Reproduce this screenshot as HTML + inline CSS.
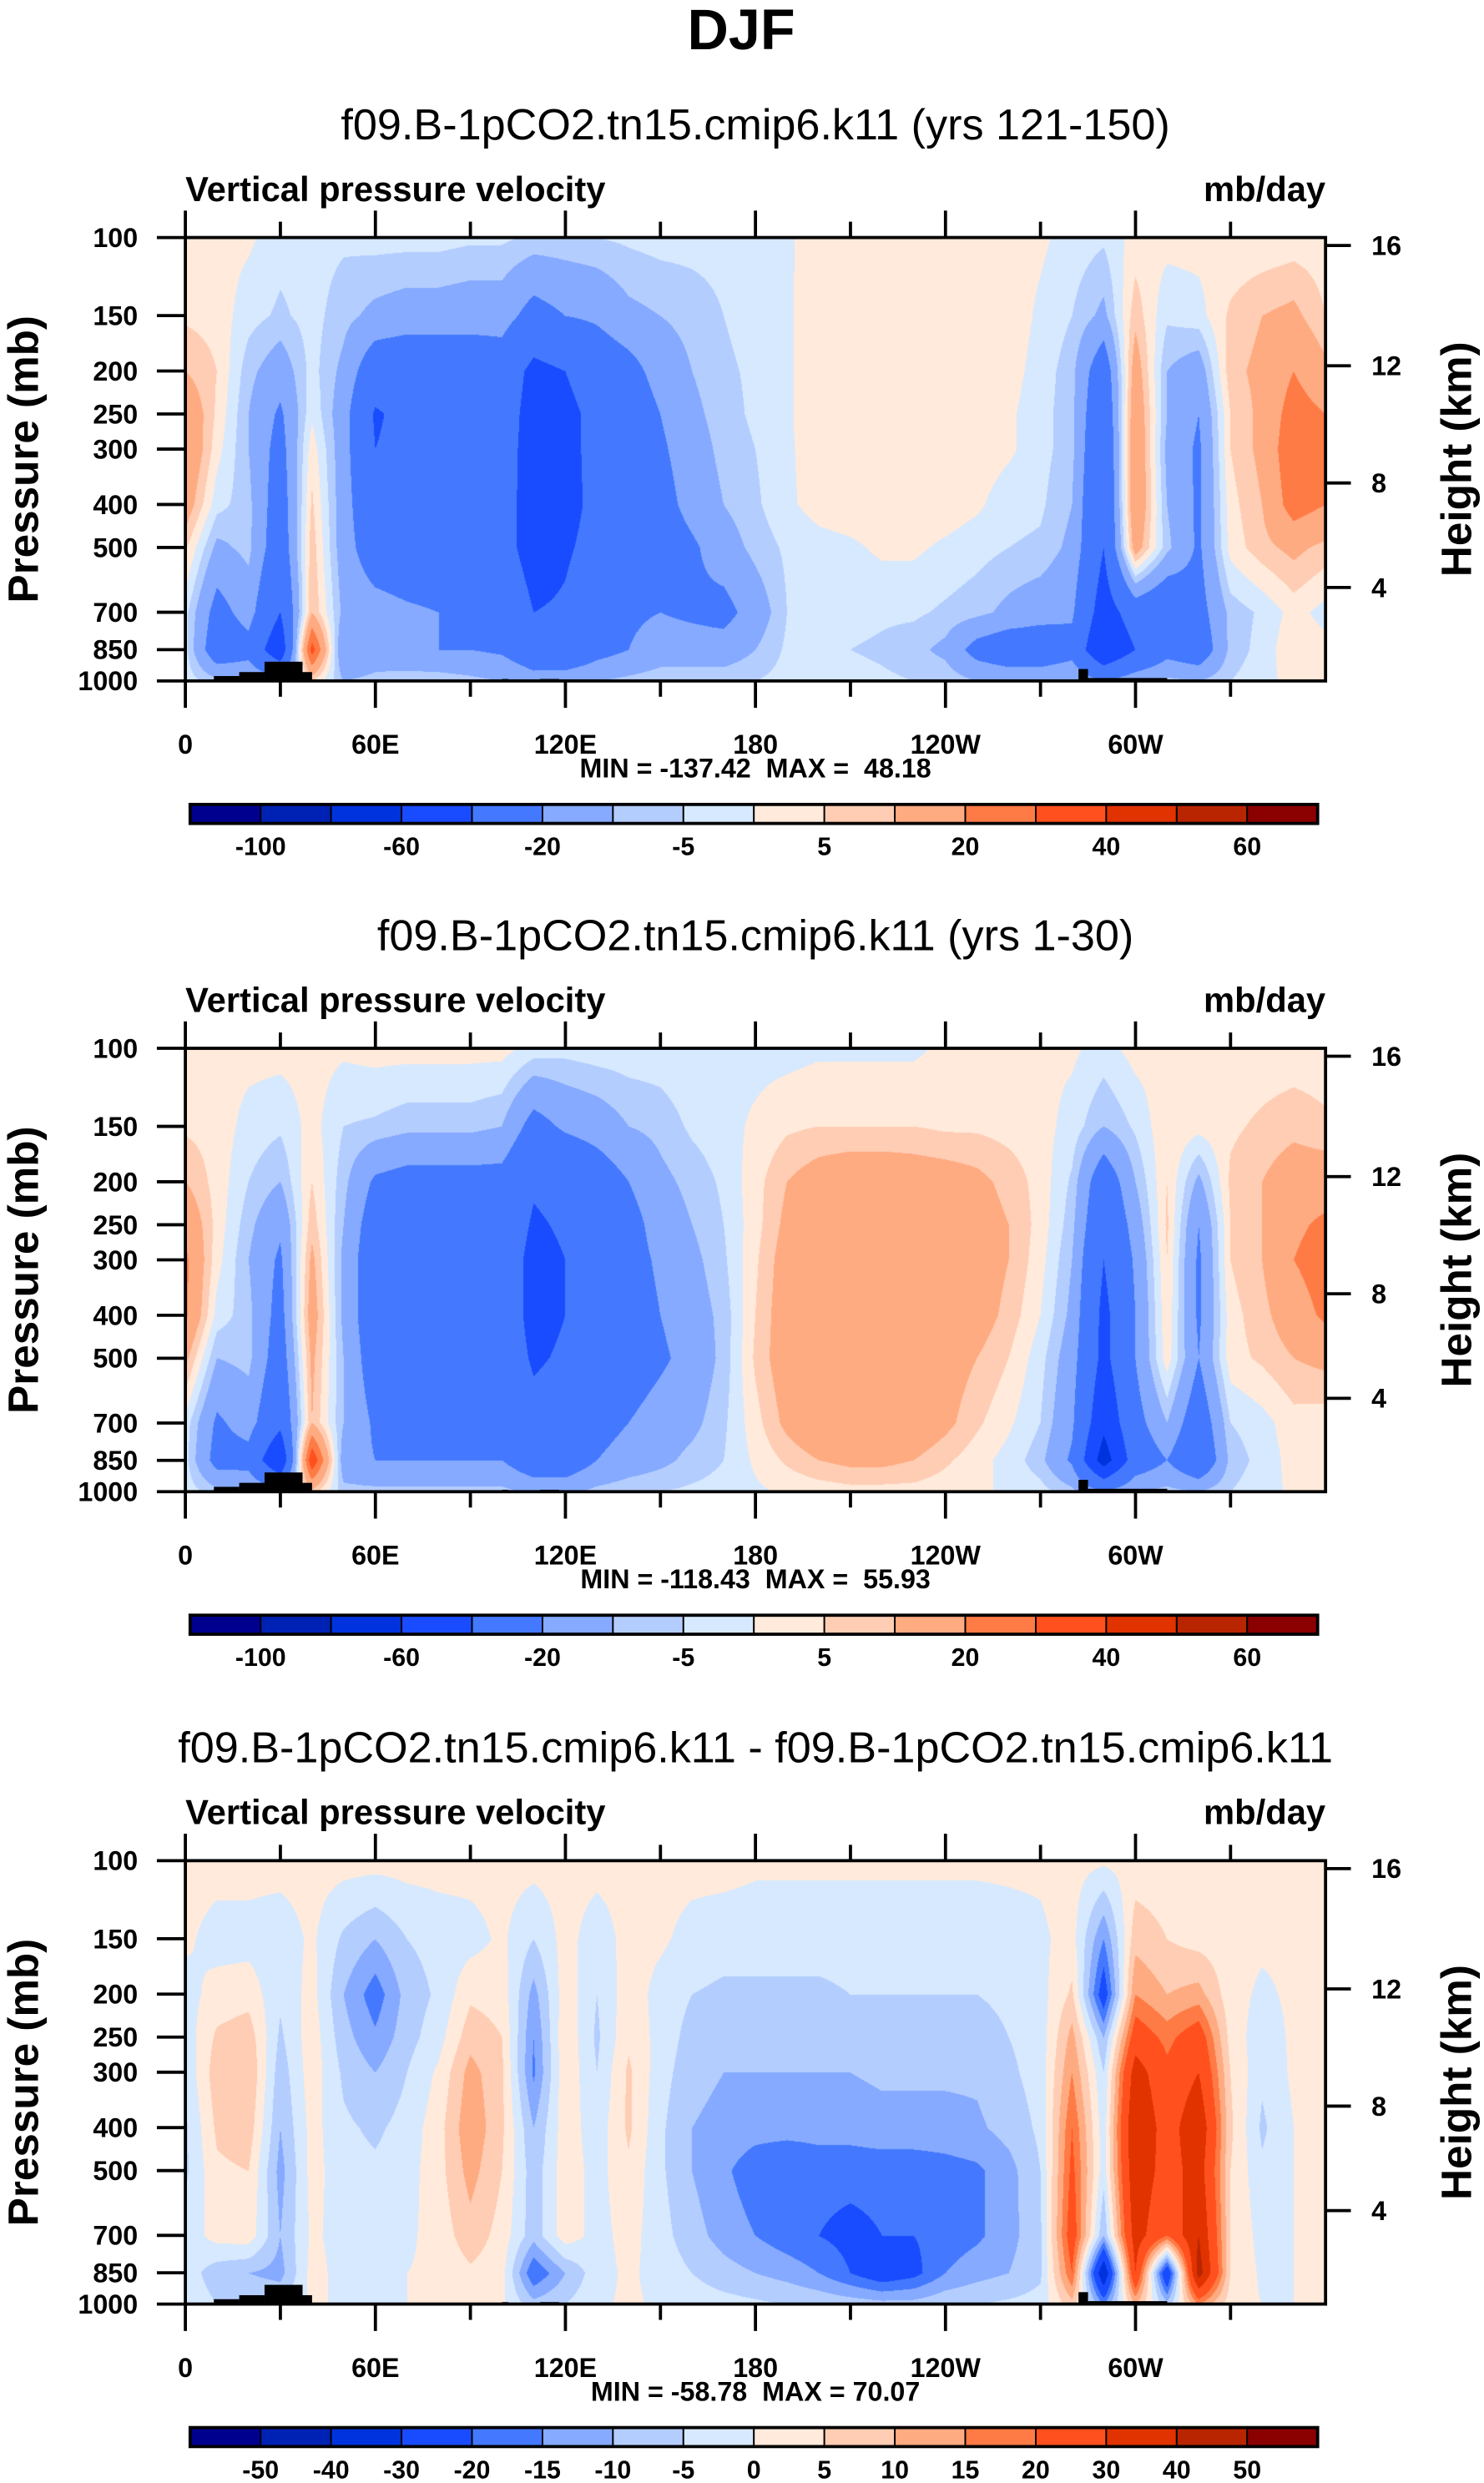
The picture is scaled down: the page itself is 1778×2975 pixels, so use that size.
<!DOCTYPE html>
<html><head><meta charset="utf-8">
<style>
html,body{margin:0;padding:0;background:#fff;}
#stage{position:relative;width:1778px;height:2975px;overflow:hidden;background:#fff;font-family:"Liberation Sans",sans-serif;}
canvas{position:absolute;}
svg{position:absolute;left:0;top:0;}
text{white-space:pre;}
</style></head>
<body>
<div id="stage">
<svg id="svg" width="1778" height="2975" viewBox="0 0 937 1568">
<text x="468" y="31" text-anchor="middle" font-size="36" font-weight="bold" font-family="Liberation Sans, sans-serif">DJF</text>
</svg>
</div>
<script>
// ---- data ----
const lons = [0,10,20,30,40,50,60,70,80,90,100,110,120,130,140,150,160,170,180,190,200,210,220,230,240,250,260,270,280,290,300,310,320,330,340,350,360];
const levels = [100,150,200,250,300,400,500,700,850,1000];
const titles = ["f09.B-1pCO2.tn15.cmip6.k11 (yrs 121-150)","f09.B-1pCO2.tn15.cmip6.k11 (yrs 1-30)","f09.B-1pCO2.tn15.cmip6.k11 - f09.B-1pCO2.tn15.cmip6.k11"];
const minmax = ["MIN = -137.42  MAX =  48.18","MIN = -118.43  MAX =  55.93","MIN = -58.78  MAX = 70.07"];
const bounds12 = [-100,-80,-60,-40,-20,-10,-5,0,5,10,20,30,40,50,60];
const bounds3 = [-50,-40,-30,-20,-15,-10,-5,0,5,10,15,20,30,40,50];
const cbLabels12 = ["-100","","-60","","-20","","-5","","5","","20","","40","","60"];
const cbLabels3 = ["-50","-40","-30","-20","-15","-10","-5","0","5","10","15","20","30","40","50"];
const colors = ["#00008f","#0022b4","#0033dd","#1a4cff","#4479ff","#85aaff","#b4cdff","#d6e9ff","#ffeadb","#ffcdb3","#ffab82","#ff7b45","#ff501e","#e03300","#b82500","#8b0000"];
const xTickLons = [0,60,120,180,240,300];
const xTickLabels = ["0","60E","120E","180","120W","60W"];
const pTicks = [100,150,200,250,300,400,500,700,850,1000];
const hTicks = [16,12,8,4];
const hTickY = [155,231,305,371];
const terrain = [[9,17,975],[17,25,955],[25,37,905],[37,40,955],[100,102,990],[112,118,990],[282,285,940],[285,310,985]];

const field1 = [
[2,2,1,-3,-3,-4,-3,-3,-3,-4,-4,-6,-6,-5,-4,-3,-3,-3,-2,-1,3,3,3,3,3,3,2,1,-2,-4,2,2,2,1,1,2,2],
[4,3,-3,-6,-3,-8,-12,-14,-14,-15,-15,-25,-20,-18,-12,-10,-8,-5,-3,-1,4,4,4,4,4,4,3,-1,-5,-12,8,-4,-2,6,10,12,5],
[10,5,-8,-15,-3,-12,-30,-32,-32,-30,-28,-45,-40,-30,-25,-15,-10,-6,-4,-1,4,4,4,4,4,3,2,-2,-8,-30,15,-10,-15,8,12,20,12],
[18,4,-10,-22,-1,-15,-42,-35,-35,-32,-30,-48,-45,-35,-30,-20,-12,-7,-4,-1,4,4,4,4,4,3,1,-3,-8,-35,18,-10,-20,5,12,25,20],
[20,2,-10,-25,3,-15,-40,-35,-35,-33,-32,-48,-45,-35,-32,-22,-14,-8,-5,-1,3,3,4,4,4,3,1,-3,-8,-38,20,-12,-22,5,12,28,22],
[15,-3,-8,-28,6,-15,-33,-33,-33,-33,-33,-48,-45,-36,-33,-25,-16,-10,-6,-1,2,3,3,3,3,1,-3,-4,-10,-40,20,-10,-22,3,10,25,20],
[6,-12,-8,-30,8,-15,-28,-30,-30,-32,-33,-48,-42,-35,-33,-28,-22,-14,-8,-4,-2,-1,1,1,-1,-3,-5,-6,-12,-40,15,-8,-22,2,8,12,8],
[-3,-25,-15,-40,10,-12,-15,-18,-20,-22,-25,-40,-38,-30,-22,-20,-22,-24,-15,-5,-3,-3,-4,-4,-6,-8,-12,-15,-18,-50,-30,-35,-25,-8,-4,2,-2],
[-3,-30,-25,-55,35,-20,-15,-18,-20,-20,-22,-30,-35,-25,-20,-15,-15,-15,-10,-4,-3,-5,-6,-8,-12,-25,-30,-30,-25,-60,-40,-25,-30,-8,-3,4,2],
[-2,-8,-10,-15,5,-10,-8,-6,-6,-8,-10,-15,-12,-10,-8,-6,-6,-6,-5,-3,-3,-3,-4,-5,-6,-10,-12,-12,-10,-20,-12,-8,-10,-5,-2,2,1]];

const field2 = [
[2,2,2,2,2,1,2,2,2,2,2,-2,-3,-2,-2,-2,-1,-1,-2,-2,-1,-1,-1,-1,1,1,1,1,1,-2,2,2,2,2,2,2,2],
[4,3,-2,-4,2,-5,-6,-8,-8,-8,-10,-25,-18,-15,-10,-8,-4,-2,1,4,5,5,5,5,4,4,3,2,-2,-10,-4,4,2,4,6,8,6],
[10,3,-5,-10,5,-8,-22,-25,-25,-25,-25,-38,-35,-28,-20,-12,-8,-4,3,10,14,16,16,15,14,12,8,3,-6,-30,-10,5,-12,6,10,15,15],
[18,3,-8,-18,8,-10,-28,-30,-30,-28,-28,-42,-38,-32,-25,-15,-10,-5,3,12,15,17,17,17,16,14,10,3,-8,-35,-15,6,-20,5,10,18,22],
[22,2,-10,-22,12,-12,-30,-35,-35,-32,-30,-45,-40,-32,-25,-18,-12,-6,4,14,16,17,18,18,17,15,10,2,-10,-40,-18,5,-22,5,10,20,25],
[22,-2,-8,-25,15,-12,-30,-38,-38,-33,-30,-45,-40,-32,-27,-20,-14,-8,5,15,17,18,18,18,17,14,8,0,-12,-45,-20,4,-22,3,8,15,22],
[12,-10,-8,-28,12,-10,-28,-32,-32,-30,-30,-42,-38,-30,-27,-22,-16,-8,6,15,17,18,17,16,14,10,5,-3,-15,-45,-20,3,-20,3,6,10,12],
[-2,-22,-15,-35,10,-10,-22,-22,-22,-22,-22,-35,-32,-25,-20,-15,-12,-6,3,12,18,20,20,17,12,6,1,-5,-18,-55,-25,-10,-30,-5,-2,3,2],
[-3,-25,-25,-60,40,-15,-20,-20,-20,-20,-20,-30,-30,-20,-15,-12,-8,-5,1,6,10,12,12,10,6,2,-2,-8,-22,-70,-30,-20,-35,-8,-3,2,1],
[-2,-8,-10,-15,8,-8,-8,-8,-8,-8,-8,-12,-12,-8,-6,-5,-4,-3,-1,1,2,3,3,3,2,1,-1,-3,-8,-20,-10,-8,-10,-5,-2,1,0]];

const field3 = [
[2,2,2,2,2,2,2,2,2,2,2,2,2,2,2,2,2,2,1,1,1,1,1,1,1,1,1,1,2,1,2,2,2,2,2,2,2],
[1,-2,-2,-3,1,-6,-10,-5,-3,-2,1,-5,2,-3,2,1,-2,-3,-3,-3,-3,-3,-3,-3,-3,-3,-2,-1,2,-15,8,5,3,2,1,1,1],
[-2,2,3,-4,2,-10,-18,-8,-4,4,3,-12,3,-5,3,-2,-5,-6,-6,-6,-6,-5,-5,-5,-5,-5,-4,-2,6,-25,15,10,12,2,-1,1,1],
[-3,6,8,-6,3,-8,-14,-7,-2,8,5,-15,4,-6,4,-2,-7,-8,-8,-8,-8,-8,-7,-7,-7,-7,-5,-3,12,-10,25,18,25,3,-3,1,1],
[-4,8,10,-8,3,-6,-10,-5,1,12,6,-16,4,-5,6,-3,-8,-10,-10,-10,-10,-10,-9,-9,-9,-9,-6,-3,15,-5,35,22,30,5,-4,1,1],
[-6,6,8,-10,2,-4,-6,-3,3,14,6,-10,3,-3,6,-4,-10,-12,-13,-13,-13,-13,-12,-12,-12,-11,-8,-4,20,-3,40,25,38,6,-6,0,1],
[-6,4,5,-12,2,-3,-4,-2,3,12,5,-8,3,-2,4,-4,-10,-14,-18,-20,-18,-18,-18,-18,-17,-16,-12,-5,22,-3,38,25,35,5,-4,0,1],
[-3,2,3,-10,1,-2,-2,-1,2,8,3,-8,3,-2,2,-3,-8,-12,-15,-18,-20,-22,-20,-20,-18,-16,-12,-6,25,-10,35,20,40,5,-2,0,1],
[-2,-8,-10,-12,2,-2,-1,0,1,4,2,-20,-10,-2,1,-2,-5,-8,-10,-12,-15,-20,-25,-22,-15,-12,-10,-6,20,-40,30,-30,45,5,-1,0,1],
[-1,-5,-5,-5,1,-1,-1,0,1,2,1,-8,-5,-1,1,-1,-2,-3,-4,-5,-6,-7,-8,-8,-6,-5,-4,-3,8,-15,10,-8,15,2,0,0,0]];

// ---- layout ----
const K = 1778/937;
const PX0 = 117, PX1 = 837, PY0 = 150, PH = 280;
const offsets = [0, 512, 1025];
const NS = "http://www.w3.org/2000/svg";
const svg = document.getElementById('svg');
const stage = document.getElementById('stage');

function xOf(lon){ return PX0 + (lon/360)*(PX1-PX0); }
function yOf(p, o){ return PY0 + o + (Math.log10(p)-2)*PH; }
function el(tag, parent){ const e=document.createElementNS(NS,tag); parent.appendChild(e); return e; }
function txt(parent, x, y, s, size, bold, anchor){
  const t = el('text', parent);
  t.setAttribute('x', x); t.setAttribute('y', y);
  t.setAttribute('font-size', size);
  t.setAttribute('font-family', 'Liberation Sans, sans-serif');
  if (bold) t.setAttribute('font-weight','bold');
  t.setAttribute('text-anchor', anchor||'start');
  t.textContent = s;
  return t;
}
function colorIdx(v, b){ let i=0; while(i<b.length && v>=b[i]) i++; return i; }
function hexRgb(h){ return [parseInt(h.slice(1,3),16),parseInt(h.slice(3,5),16),parseInt(h.slice(5,7),16)]; }
const rgb = colors.map(hexRgb);
const logLev = levels.map(p=>Math.log10(p));

function sample(field, lon, lp){
  let i=0; while(i<lons.length-2 && lon>lons[i+1]) i++;
  let fx=(lon-lons[i])/(lons[i+1]-lons[i]); fx=Math.max(0,Math.min(1,fx));
  let j=0; while(j<logLev.length-2 && lp>logLev[j+1]) j++;
  let fy=(lp-logLev[j])/(logLev[j+1]-logLev[j]); fy=Math.max(0,Math.min(1,fy));
  const a=field[j][i], b=field[j][i+1], c=field[j+1][i], d=field[j+1][i+1];
  return (a*(1-fx)+b*fx)*(1-fy)+(c*(1-fx)+d*fx)*fy;
}

const fields=[field1,field2,field3];
const boundsAll=[bounds12,bounds12,bounds3];
const cbLabAll=[cbLabels12,cbLabels12,cbLabels3];

fields.forEach((field, pi)=>{
  const o = offsets[pi];
  const bounds = boundsAll[pi];
  const cv = document.createElement('canvas');
  
  
  const left = Math.round(PX0*K), top = Math.round((PY0+o)*K);
  const W = Math.round(PX1*K)-left, H = Math.round((PY0+o+PH)*K)-top;
  cv.width=W; cv.height=H;
  cv.style.left=left+'px'; cv.style.top=top+'px';
  stage.insertBefore(cv, svg);
  const ctx=cv.getContext('2d');
  const img=ctx.createImageData(W,H);
  for(let py=0;py<H;py++){
    const lp = 2 + ((py+0.5)/H);
    for(let px=0;px<W;px++){
      const lon = (px+0.5)/W*360;
      const v = sample(field, lon, lp);
      const c = rgb[colorIdx(v,bounds)];
      const k4=(py*W+px)*4;
      img.data[k4]=c[0]; img.data[k4+1]=c[1]; img.data[k4+2]=c[2]; img.data[k4+3]=255;
    }
  }
  ctx.putImageData(img,0,0);

  const g = el('g', svg);
  
  

  terrain.forEach(t=>{
    const r = el('rect', g);
    
    
    r.setAttribute('x', xOf(t[0])); r.setAttribute('width', xOf(t[1])-xOf(t[0]));
    r.setAttribute('y', yOf(t[2],o)); r.setAttribute('height', yOf(1000,o)-yOf(t[2],o));
    r.setAttribute('fill','#000');
  });

  const st = txt(g, 477, 88+o, titles[pi], 27.5, false, 'middle');
  
  
  const vt = txt(g, 117, 127+o, 'Vertical pressure velocity', 22, true, 'start');
  
  
  const ut = txt(g, 837, 127+o, 'mb/day', 22, true, 'end');
  
  

  const frame = el('rect', g);
  
  
  frame.setAttribute('x',PX0); frame.setAttribute('y',PY0+o); frame.setAttribute('width',PX1-PX0); frame.setAttribute('height',PH);
  frame.setAttribute('fill','none'); frame.setAttribute('stroke','#000'); frame.setAttribute('stroke-width','2');

  for(let lon=0; lon<=330; lon+=30){
    const major = lon%60===0;
    const len = major?17:10;
    [[PY0+o, PY0+o-len],[PY0+o+PH, PY0+o+PH+len]].forEach(s=>{
      const l = el('line', g);
      
      
      l.setAttribute('x1',xOf(lon)); l.setAttribute('x2',xOf(lon));
      l.setAttribute('y1',s[0]); l.setAttribute('y2',s[1]);
      l.setAttribute('stroke','#000'); l.setAttribute('stroke-width','2');
    });
  }
  xTickLons.forEach((lon,i)=>{
    const t = txt(g, xOf(lon), 476+o, xTickLabels[i], 17, true, 'middle');
    
    
  });
  pTicks.forEach(p=>{
    const y=yOf(p,o);
    const l = el('line', g);
    
    
    l.setAttribute('x1',99); l.setAttribute('x2',PX0); l.setAttribute('y1',y); l.setAttribute('y2',y);
    l.setAttribute('stroke','#000'); l.setAttribute('stroke-width','2');
    const t = txt(g, 87, y+6, String(p), 17, true, 'end');
    
    
  });
  hTicks.forEach((h,i)=>{
    const y=hTickY[i]+o;
    const l = el('line', g);
    
    
    l.setAttribute('x1',PX1); l.setAttribute('x2',853); l.setAttribute('y1',y); l.setAttribute('y2',y);
    l.setAttribute('stroke','#000'); l.setAttribute('stroke-width','2');
    const t = txt(g, 866, y+6, String(h), 17, true, 'start');
    
    
  });
  const ya = txt(g, 0, 0, 'Pressure (mb)', 27, true, 'middle');
  
  
  ya.setAttribute('transform', 'translate(24,'+(290+o)+') rotate(-90)');
  const ya2 = txt(g, 0, 0, 'Height (km)', 27, true, 'middle');
  
  
  ya2.setAttribute('transform', 'translate(929,'+(290+o)+') rotate(-90)');

  const mm = txt(g, 477, 491+o, minmax[pi], 17, true, 'middle');
  
  

  const cbX0=120, cbX1=832, cbY=508+o, cbH=12;
  const cw=(cbX1-cbX0)/colors.length;
  colors.forEach((c,i)=>{
    const r = el('rect', g);
    
    
    r.setAttribute('x', cbX0+i*cw); r.setAttribute('y', cbY); r.setAttribute('width', cw); r.setAttribute('height', cbH);
    r.setAttribute('fill', c); r.setAttribute('stroke','#000'); r.setAttribute('stroke-width','1');
  });
  const cbf = el('rect', g);
  
  
  cbf.setAttribute('x',cbX0); cbf.setAttribute('y',cbY); cbf.setAttribute('width',cbX1-cbX0); cbf.setAttribute('height',cbH);
  cbf.setAttribute('fill','none'); cbf.setAttribute('stroke','#000'); cbf.setAttribute('stroke-width','2');
  cbLabAll[pi].forEach((s,i)=>{
    if(!s) return;
    const t = txt(g, cbX0+(i+1)*cw, 540+o, s, 16, true, 'middle');
    
    
  });
});
</script>
</body></html>
